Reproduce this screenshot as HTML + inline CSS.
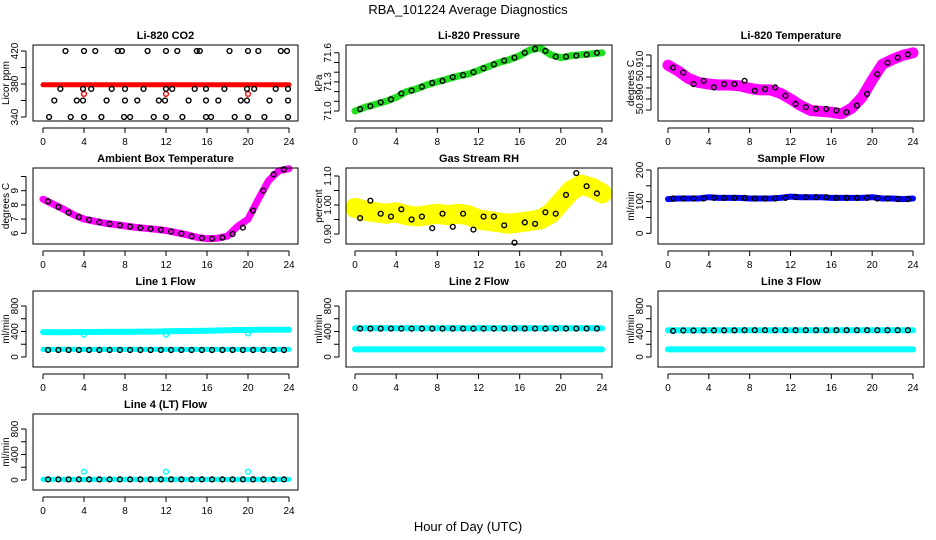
<!DOCTYPE html>
<html><head><meta charset="utf-8"><style>
body{margin:0;background:#fff}
svg{display:block;font-family:"Liberation Sans",Arial,sans-serif}
</style></head><body>
<svg id="chart" width="936" height="540" viewBox="0 0 936 540" xmlns="http://www.w3.org/2000/svg">
<rect width="936" height="540" fill="#fff"/>
<text x="468" y="14" text-anchor="middle" font-size="13">RBA_101224  Average Diagnostics</text>
<text x="468" y="531" text-anchor="middle" font-size="13">Hour of Day (UTC)</text>
<g id="plots"></g>
</svg>
<script>
// ---- data ----
const xTicks = [0,4,8,12,16,20,24];
const hours = [0,1,2,3,4,5,6,7,8,9,10,11,12,13,14,15,16,17,18,19,20,21,22,23,24];
const halfHours = [0.5,1.5,2.5,3.5,4.5,5.5,6.5,7.5,8.5,9.5,10.5,11.5,12.5,13.5,14.5,15.5,16.5,17.5,18.5,19.5,20.5,21.5,22.5,23.5];

const co2Band = [379,379,379,379,379,379,379,379,379,379,379,379,379,379,379,379,379,379,379,379,379,379,379,379,379];
const co2Black = [[2.2,420],[4,420],[5.1,420],[7.3,420],[7.7,420],[10.2,420],[12,420],[13.1,420],[15,420],[15.3,420],[18.2,420],[20,420],[21,420],[23.2,420],[23.8,420],
 [0.6,340],[2.7,340],[4,340],[5.7,340],[7.9,340],[8.5,340],[10.8,340],[12,340],[13.6,340],[15.9,340],[16.4,340],[18.7,340],[20,340],[21.6,340],[23.9,340],
 [1.1,360],[3.3,360],[3.9,360],[6.2,360],[8,360],[9.2,360],[11.3,360],[11.9,360],[14.2,360],[15.9,360],[17.1,360],[19.3,360],[19.9,360],[22.1,360],[23.9,360],
 [1.7,374],[3.9,374],[4.7,374],[6.7,374],[8,374],[9.8,374],[12,374],[12.6,374],[14.8,374],[15.9,374],[17.7,374],[19.9,374],[20.6,374],[22.7,374],[23.9,374]];
const co2Outliers = [[4,368],[12,368],[20,368]];

const presBand = [71.0,71.04,71.07,71.1,71.14,71.2,71.23,71.27,71.3,71.33,71.36,71.38,71.42,71.46,71.5,71.53,71.57,71.63,71.65,71.58,71.55,71.57,71.58,71.59,71.6];
const presBlack = [71.02,71.05,71.09,71.12,71.18,71.21,71.25,71.29,71.31,71.35,71.37,71.4,71.44,71.48,71.52,71.55,71.6,71.64,71.62,71.56,71.56,71.57,71.58,71.6];

const tempBand = [50.9105,50.907,50.9025,50.900,50.899,50.8985,50.8985,50.898,50.8965,50.8955,50.8955,50.8935,50.890,50.886,50.883,50.8825,50.882,50.881,50.8845,50.891,50.9015,50.911,50.914,50.9165,50.918];
const tempBlack = [50.909,50.906,50.899,50.901,50.897,50.899,50.899,50.901,50.895,50.896,50.897,50.892,50.887,50.885,50.884,50.884,50.883,50.882,50.886,50.893,50.905,50.912,50.915,50.917];

const ambBand = [8.4,8.05,7.7,7.3,7.0,6.85,6.72,6.62,6.52,6.42,6.35,6.28,6.2,6.05,5.9,5.72,5.62,5.65,5.8,6.5,7.0,8.4,9.7,10.4,10.55];
const ambBlack = [8.25,7.85,7.45,7.15,6.95,6.78,6.66,6.56,6.47,6.38,6.32,6.24,6.12,5.98,5.78,5.66,5.62,5.7,5.95,6.4,7.6,9.0,10.15,10.5];

const rhBand = [0.99,0.98,0.975,0.97,0.975,0.965,0.96,0.965,0.97,0.965,0.97,0.965,0.95,0.945,0.94,0.935,0.94,0.945,0.95,0.97,1.01,1.05,1.07,1.06,1.04];
const rhBlack = [0.955,1.015,0.97,0.96,0.985,0.95,0.96,0.92,0.97,0.925,0.97,0.915,0.96,0.96,0.93,0.87,0.94,0.935,0.975,0.97,1.035,1.11,1.065,1.04];

const sampleBand = [108,110,110,110,114,112,112,112,110,110,110,112,116,114,114,114,112,112,112,112,114,110,110,108,110];
const sampleBlack = [110,110,110,110,112,112,112,112,110,110,110,112,114,114,114,114,112,112,112,112,110,110,108,108];

const l1High = [390,388,388,390,392,392,394,394,396,396,398,398,404,406,408,410,412,416,420,424,424,426,428,428,428];
const l1Low = [120,120,120,120,120,120,120,120,120,120,120,120,120,120,120,120,120,120,120,120,120,120,120,120,120];
const l1Black = [110,110,110,110,110,110,110,110,110,110,110,110,110,110,110,110,110,110,110,110,110,110,110,110];
const l1Out = [[4,350],[12,350],[20,370]];

const l2High = [450,450,450,450,450,450,450,450,450,450,450,450,450,450,450,450,450,450,450,450,450,450,450,450,450];
const l2Low = [120,120,120,120,120,120,120,120,120,120,120,120,120,120,120,120,120,120,120,120,120,120,120,120,120];
const l2Black = [445,445,445,445,445,445,445,445,445,445,445,445,445,445,445,445,445,445,445,445,445,445,445,445];

const l3High = [420,420,420,420,420,420,420,420,420,420,420,420,420,420,420,420,420,420,420,420,420,420,420,420,420];
const l3Low = [120,120,120,120,120,120,120,120,120,120,120,120,120,120,120,120,120,120,120,120,120,120,120,120,120];
const l3Black = [410,415,415,415,418,418,418,420,420,420,420,420,420,420,420,420,420,420,420,420,420,420,420,420];

const l4Band = [10,10,10,10,10,10,10,10,10,10,10,10,10,10,10,10,10,10,10,10,10,10,10,10,10];
const l4Black = [10,10,10,10,10,10,10,10,10,10,10,10,10,10,10,10,10,10,10,10,10,10,10,10];
const l4Out = [[4,130],[12,130],[20,130]];

// ---- layout ----
const cols = [{bl:33,br:298,x0:43,x24:289},{bl:346,br:612,x0:355,x24:602},{bl:658,br:924,x0:668,x24:913}];
const rows = [45,168,291,414];
const BH = 76;
const NS = 'http://www.w3.org/2000/svg';
const root = document.getElementById('plots');
function el(tag, attrs, parent){const e=document.createElementNS(NS,tag);for(const k in attrs)e.setAttribute(k,attrs[k]);(parent||root).appendChild(e);return e;}

function panel(p){
  const c=cols[p.col], top=rows[p.row], bot=top+BH;
  const g=el('g',{});
  
  
  const xs=t=>c.x0+(t/24)*(c.x24-c.x0);
  const ys=v=>top+p.refY-(v-p.refV)*p.k;
  const t=el('text',{x:(c.bl+c.br)/2,y:top-6,'text-anchor':'middle','font-size':'11','font-weight':'bold'},g);
  t.textContent=p.title;
  
  
  const marks=el('g',{},g);
  
  
  (p.bands||[]).forEach(b=>{
    const pts=hours.map((h,i)=>xs(h).toFixed(1)+','+ys(b.v[i]).toFixed(1)).join(' ');
    const pl=el('polyline',{points:pts,fill:'none',stroke:b.color,'stroke-width':b.w,'stroke-linecap':'round','stroke-linejoin':'round'},marks);
    
    
  });
  (p.pts||[]).forEach(s=>{
    s.d.forEach(d=>{
      const ci=el('circle',{cx:xs(d[0]).toFixed(1),cy:ys(d[1]).toFixed(1),r:2.4,fill:'none',stroke:s.color,'stroke-width':1.4},marks);
      
      
    });
  });
  const box=el('rect',{x:c.bl,y:top,width:c.br-c.bl,height:BH,fill:'none',stroke:'#000','stroke-width':1},g);
  
  
  el('line',{x1:xs(0),x2:xs(24),y1:bot+7,y2:bot+7,stroke:'#000'},g);
  xTicks.forEach(v=>{
    el('line',{x1:xs(v),x2:xs(v),y1:bot+7,y2:bot+12,stroke:'#000'},g);
    const tl=el('text',{x:xs(v),y:bot+24,'text-anchor':'middle','font-size':'10'},g);
    tl.textContent=v;
    
    
  });
  const ax=c.bl-7;
  el('line',{x1:ax,x2:ax,y1:ys(p.yt[0]),y2:ys(p.yt[p.yt.length-1]),stroke:'#000'},g);
  p.yt.forEach((v,i)=>{
    const y=ys(v);
    el('line',{x1:ax-5,x2:ax,y1:y,y2:y,stroke:'#000'},g);
    if(p.yl[i]){
      const tl=el('text',{x:ax-8,y:y,'text-anchor':'middle','font-size':'10',transform:`rotate(-90 ${ax-8} ${y})`},g);
      tl.textContent=p.yl[i];
      
      
    }
  });
  const yt=el('text',{x:c.bl-24,y:top+BH/2,'text-anchor':'middle','font-size':'10',transform:`rotate(-90 ${c.bl-24} ${top+BH/2})`},g);
  yt.textContent=p.ylab;
  
  
}
const hp=vals=>halfHours.map((h,i)=>[h,vals[i]]);

panel({name:'panel-co2',title:'Li-820 CO2',col:0,row:0,ylab:'Licor ppm',refV:420,refY:6,k:66/80,
  yt:[340,360,380,400,420],yl:['340','','380','','420'],
  bands:[{v:co2Band,color:'#ff0000',w:5}],
  pts:[{color:'#ff0000',d:co2Outliers},{color:'#000',d:co2Black}]});
panel({name:'panel-pressure',title:'Li-820 Pressure',col:1,row:0,ylab:'kPa',refV:71.0,refY:66,k:97,
  yt:[71.0,71.1,71.2,71.3,71.4,71.5,71.6],yl:['71.0','','','71.3','','','71.6'],
  bands:[{v:presBand,color:'#22dd22',w:7}],
  pts:[{color:'#000',d:hp(presBlack)}]});
panel({name:'panel-li820-temperature',title:'Li-820 Temperature',col:2,row:0,ylab:'degrees C',refV:50.91,refY:21,k:1650,
  yt:[50.8833,50.89,50.8967,50.9033,50.91,50.9167],yl:['','50.890','','','50.910',''],
  bands:[{v:tempBand,color:'#ff00ff',w:11}],
  pts:[{color:'#000',d:hp(tempBlack)}]});
panel({name:'panel-ambient-temperature',title:'Ambient Box Temperature',col:0,row:1,ylab:'degrees C',refV:6,refY:65.3,k:14.2,
  yt:[6,7,8,9,10],yl:['6','7','8','9',''],
  bands:[{v:ambBand,color:'#ff00ff',w:7}],
  pts:[{color:'#000',d:hp(ambBlack)}]});
panel({name:'panel-gas-rh',title:'Gas Stream RH',col:1,row:1,ylab:'percent',refV:1.0,refY:37,k:290,
  yt:[0.90,0.95,1.00,1.05,1.10],yl:['0.90','','1.00','','1.10'],
  bands:[{v:rhBand,color:'#ffff00',w:20}],
  pts:[{color:'#000',d:hp(rhBlack)}]});
panel({name:'panel-sample-flow',title:'Sample Flow',col:2,row:1,ylab:'ml/min',refV:0,refY:65.3,k:0.3165,
  yt:[0,50,100,150,200],yl:['0','','100','','200'],
  bands:[{v:sampleBand,color:'#0000ff',w:6}],
  pts:[{color:'#000',d:hp(sampleBlack)}]});
const fk=51/800;
panel({name:'panel-line1-flow',title:'Line 1 Flow',col:0,row:2,ylab:'ml/min',refV:0,refY:66,k:fk,
  yt:[0,200,400,600,800],yl:['0','','400','','800'],
  bands:[{v:l1High,color:'#00ffff',w:6},{v:l1Low,color:'#00ffff',w:5}],
  pts:[{color:'#00ffff',d:l1Out},{color:'#000',d:hp(l1Black)}]});
panel({name:'panel-line2-flow',title:'Line 2 Flow',col:1,row:2,ylab:'ml/min',refV:0,refY:66,k:fk,
  yt:[0,200,400,600,800],yl:['0','','400','','800'],
  bands:[{v:l2High,color:'#00ffff',w:6},{v:l2Low,color:'#00ffff',w:6}],
  pts:[{color:'#000',d:hp(l2Black)}]});
panel({name:'panel-line3-flow',title:'Line 3 Flow',col:2,row:2,ylab:'ml/min',refV:0,refY:66,k:fk,
  yt:[0,200,400,600,800],yl:['0','','400','','800'],
  bands:[{v:l3High,color:'#00ffff',w:6},{v:l3Low,color:'#00ffff',w:6}],
  pts:[{color:'#000',d:hp(l3Black)}]});
panel({name:'panel-line4-flow',title:'Line 4 (LT) Flow',col:0,row:3,ylab:'ml/min',refV:0,refY:66,k:fk,
  yt:[0,200,400,600,800],yl:['0','','400','','800'],
  bands:[{v:l4Band,color:'#00ffff',w:5}],
  pts:[{color:'#00ffff',d:l4Out},{color:'#000',d:hp(l4Black)}]});
</script>
</body></html>
